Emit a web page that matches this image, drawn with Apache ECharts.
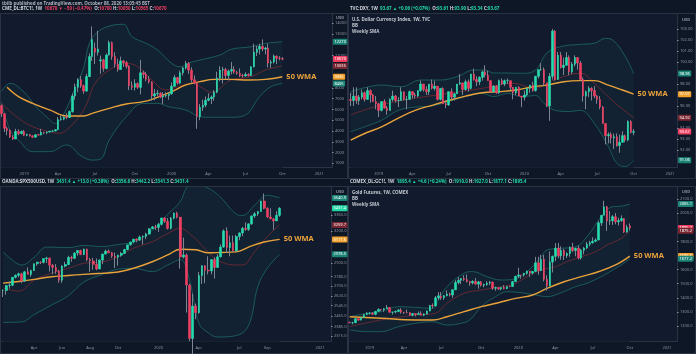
<!DOCTYPE html>
<html><head><meta charset="utf-8">
<script src="https://cdn.jsdelivr.net/npm/echarts@6/dist/echarts.min.js"></script>
<style>html,body{margin:0;padding:0;background:#0e1726;}#c{width:696px;height:354px;}</style>
</head><body><div id="c"></div>
<script>
// ================= DATA =================
// Weekly candles [open, high, low, close]
const btcStart = '2018-11-12';
const btcOHLC = [
[6350,6450,5300,5600],[5600,5650,3900,4250],[4250,4400,3600,4050],[4050,4150,3350,3450],[3450,3600,3150,3250],
[3250,4200,3250,3950],[3950,4150,3600,3750],[3750,4050,3700,3950],[3950,4100,3550,3600],[3600,3750,3520,3680],
[3680,3700,3480,3550],[3550,3600,3350,3420],[3420,3700,3400,3650],[3650,3720,3580,3620],[3620,4200,3600,3880],
[3880,3920,3700,3850],[3850,3950,3700,3900],[3900,4000,3850,3980],[3980,4080,3900,4000],[4000,4150,3950,4120],
[4120,5300,4100,5050],[5050,5450,4950,5100],[5100,5350,5000,5300],[5300,5650,5100,5250],[5250,5900,5200,5800],
[5800,7500,5700,7250],[7250,8400,6900,8050],[8050,8900,7600,8750],[8750,9100,8000,8200],[8200,8300,7450,7700],
[7700,9300,7650,9050],[9050,11200,9000,10900],[10900,13700,10500,12500],[11700,12200,10200,11300],[11300,13300,11000,11600],
[10500,11000,9300,10600],[10600,10700,9500,9800],[9800,11200,9700,11050],[11050,12400,11000,12200],[12200,12300,10600,10900],
[10900,11300,9900,10200],[10200,10700,9500,9700],[9700,10900,9700,10500],[10500,10600,9950,10350],[10350,10500,9800,10000],
[10000,10100,7800,8200],[8200,8600,7800,8050],[8050,8800,7750,8400],[8400,8500,7900,8050],[8050,10600,7400,9400],
[9400,9600,8900,9250],[9250,9500,8600,8800],[8800,9100,8400,8550],[8550,8600,6800,7250],[7250,7900,6850,7450],
[7450,7800,7200,7500],[7500,7600,7050,7150],[7150,7600,6500,7250],[7250,7600,7100,7300],[7300,7600,6900,7450],
[7450,8500,7350,8150],[8150,9200,8100,8950],[8950,9000,8300,8450],[8450,9600,8350,9400],[9400,9950,9150,9850],
[9850,10500,9700,10250],[10250,10400,9300,9650],[9650,9900,8500,8750],[8750,9150,8350,8450],[8450,8500,4200,5350],
[5350,6500,5000,6200],[6200,6900,5850,6400],[6400,7200,6200,6850],[6850,7500,6750,7000],[7000,7300,6500,7150],
[7150,7800,6800,7600],[7600,9500,7500,8900],[8900,10000,8600,9650],[9650,9950,8400,9700],[9700,9850,8800,9150],
[9150,9700,8700,9550],[9550,10400,9250,9700],[9700,10000,9300,9450],[9450,9600,9200,9350],[9350,9800,9000,9150],
[9150,9300,8950,9100],[9100,9450,9050,9250],[9250,9350,9050,9150],[9150,10000,9100,9950],[9950,12100,9900,11300],
[11300,11900,10950,11600],[11600,12100,11100,11850],[11850,12500,11400,11600],[11600,11800,11100,11700],[11700,12100,9900,10300],
[10300,10600,9850,10400],[10400,11100,10250,10950],[10950,11000,10200,10750],[10750,10950,10550,10720],[10700,10850,10565,10670]
];
// Indicators: [week number, value]
const btcUpper = [[0,7640],[3,8420],[8,7600],[12,6300],[16,5300],[19,4700],[22,5600],[26,8000],[29,9900],[31,12130],[34,13210],[39,13800],[43,13900],[46,12750],[51,12130],[55,11510],[60,10280],[63,9950],[66,10300],[70,10580],[77,11050],[81,11580],[88,11820],[93,12130],[99,12270]];
const btcLower = [[0,6710],[3,4090],[6,3160],[11,2080],[17,2080],[23,2700],[28,1700],[32,1300],[35,1400],[38,3160],[44,5320],[50,6560],[55,6560],[59,6250],[65,5940],[70,5320],[74,5270],[81,5270],[86,5480],[91,7180],[95,8110],[99,8405]];
const btcBasis = [[0,6570],[6,5180],[11,4400],[17,3940],[20,3790],[23,4090],[29,5950],[33,8420],[38,9650],[44,10270],[48,9970],[53,8730],[58,7800],[62,8100],[67,8420],[70,8110],[74,7600],[81,8730],[88,9040],[93,9650],[99,10035]];
const btcWma = [[2,8050],[6,7185],[11,6567],[17,5950],[23,5390],[29,5390],[32,5640],[38,6100],[44,6500],[50,6720],[54,7030],[60,7650],[65,8270],[70,8575],[75,8790],[81,8790],[87,8730],[93,8790],[99,9035]];
const btcTickDates = ['2019-01-07','2019-04-01','2019-07-01','2019-10-07','2020-01-06','2020-04-06','2020-07-06','2020-10-05','2021-01-04'];
const btcTickLabels = ['2019','Apr','Jul','Oct','2020','Apr','Jul','Oct','2021'];
const btcYLabels = [1000,2000,3000,4000,5000,6000,7000,8000,11000,13000,14000];
const btcTags = [12270,10670,10035,9035,8405];

const dxyStart = '2018-10-29';
const dxyOHLC = [
[96.6,97.2,96.0,96.5],[96.5,97.7,96.0,96.9],[96.9,97.7,96.2,96.5],[96.5,97.0,96.1,96.8],[96.8,97.5,96.6,97.2],
[97.2,97.3,96.4,96.6],[96.6,97.7,96.6,97.4],[97.4,97.5,96.3,97.0],[97.0,97.1,96.4,96.4],[96.4,96.9,95.7,96.2],
[96.2,96.3,95.0,95.6],[95.6,96.4,95.5,96.4],[96.4,96.6,95.8,95.8],[95.8,96.0,95.2,95.6],[95.6,96.7,95.6,96.6],
[96.6,97.4,96.4,96.9],[96.9,97.0,96.3,96.5],[96.5,96.8,95.9,96.5],[96.5,97.7,96.5,97.3],[97.3,97.3,96.5,96.6],
[96.6,96.9,95.7,96.6],[96.6,97.4,96.6,97.3],[97.3,97.3,96.7,97.0],[97.0,97.2,96.7,96.9],[96.9,97.4,96.8,97.4],
[97.4,98.3,97.3,98.0],[98.0,98.0,97.3,97.5],[97.5,97.8,97.0,97.3],[97.3,98.0,97.0,98.0],[98.0,98.4,97.5,97.6],
[97.6,98.3,97.4,97.8],[97.8,97.8,96.5,96.6],[96.6,97.6,96.5,97.6],[97.6,97.7,96.2,96.2],[96.2,96.5,95.8,96.1],
[96.1,97.3,96.0,97.3],[97.3,97.6,96.6,96.8],[96.8,97.2,96.5,97.1],[97.1,98.0,97.1,98.0],[98.0,98.9,97.9,98.1],
[98.1,98.1,97.0,97.5],[97.5,98.4,97.4,98.2],[98.2,98.4,97.3,97.6],[97.6,98.9,97.5,98.9],[98.9,99.4,98.3,98.4],
[98.4,98.7,97.8,98.2],[98.2,98.7,97.9,98.6],[98.6,99.2,98.3,99.1],[99.1,99.7,98.6,98.8],[98.8,99.2,98.3,98.3],
[98.3,98.3,97.2,97.3],[97.3,97.9,97.2,97.8],[97.8,97.9,97.1,97.2],[97.2,98.4,97.1,98.3],[98.3,98.5,97.9,98.0],
[98.0,98.4,97.8,98.3],[98.3,98.5,98.0,98.3],[98.3,98.3,97.4,97.7],[97.7,97.7,96.6,97.2],[97.2,97.7,97.0,97.7],
[97.7,97.8,96.9,96.9],[96.9,96.9,95.9,96.8],[96.8,97.4,96.5,97.0],[97.0,97.6,96.9,97.6],[97.6,97.9,97.2,97.9],
[97.9,98.2,97.3,97.4],[97.4,98.7,97.3,98.7],[98.7,99.3,98.5,99.3],[99.3,99.9,99.2,99.3],[99.3,99.5,97.8,98.1],
[98.1,98.1,95.9,96.0],[96.0,99.0,94.65,98.7],[98.7,103.0,98.4,102.8],[102.8,102.9,98.3,98.4],[98.4,100.9,98.4,100.6],
[100.6,100.9,99.4,99.5],[99.5,100.4,98.8,99.7],[99.7,100.9,99.7,100.4],[100.4,100.6,98.8,99.1],[99.1,100.0,98.9,99.8],
[99.8,100.6,99.6,100.4],[100.4,100.4,99.3,99.9],[99.9,100.1,98.3,98.4],[98.4,98.6,96.4,96.9],[96.9,97.4,95.7,97.3],
[97.3,97.8,96.8,97.6],[97.6,97.7,96.5,97.4],[97.4,97.8,96.7,96.9],[96.9,97.0,96.2,96.6],[96.6,96.9,95.7,95.9],
[95.9,96.0,94.4,94.4],[94.4,94.4,92.5,93.3],[93.3,93.6,92.6,93.4],[93.4,93.6,92.6,93.1],[93.1,93.5,92.1,93.2],
[93.2,93.5,92.3,92.4],[92.4,93.4,91.75,92.7],[92.7,93.7,92.7,93.3],[93.3,93.4,92.7,92.9],[92.9,94.7,92.8,94.6],
[94.6,94.7,93.5,93.6],[93.61,93.90,93.34,93.67]
];
const dxyUpper = [[0,97.3],[4,97.6],[11,97.9],[18,97.75],[25,98.36],[32,98.36],[38,98.67],[44,99.27],[48,99.27],[51,99.0],[55,99.0],[61,98.97],[66,99.27],[70,100.8],[75,101.4],[82,101.6],[87,101.7],[91,102.15],[94,101.9],[98,100.5],[101,98.96]];
const dxyLower = [[0,93.67],[5,94.1],[11,94.7],[17,95.6],[23,95.9],[29,96.0],[35,96.4],[41,96.85],[47,97.15],[51,96.85],[56,97.15],[61,96.85],[66,96.95],[69,96.25],[73,95.6],[78,95.5],[82,95.6],[87,94.4],[92,92.3],[95,90.8],[98,90.5],[101,91.06]];
const dxyBasis = [[0,95.2],[11,96.1],[23,96.7],[35,97.15],[47,97.6],[58,98.06],[66,97.6],[70,98.06],[76,98.67],[82,98.97],[88,97.8],[94,96.36],[101,94.92]];
const dxyWma = [[0,92.9],[5,93.5],[11,94.1],[17,94.9],[23,95.6],[29,96.06],[35,96.5],[41,96.9],[47,97.2],[53,97.3],[59,97.45],[65,97.75],[70,97.9],[76,98.2],[82,98.3],[87,98.3],[92,97.9],[97,97.45],[101,97.07]];
const dxyTickDates = ['2019-01-07','2019-04-01','2019-07-01','2019-10-07','2020-01-06','2020-04-06','2020-07-06','2020-10-05','2021-01-04'];
const dxyTickLabels = ['2019','Apr','Jul','Oct','2020','Apr','Jul','Oct','2021'];
const dxyYLabels = [92,93,94,96,98,100,101,102,103];
const dxyTags = [98.96,97.07,94.92,93.67,91.06];

const spxStart = '2019-01-21';
const spxOHLC = [
[2665,2675,2612,2665],[2665,2710,2630,2705],[2705,2740,2680,2708],[2708,2777,2700,2775],[2775,2800,2765,2792],
[2792,2815,2775,2805],[2805,2815,2725,2745],[2745,2830,2735,2822],[2822,2860,2800,2800],[2800,2840,2780,2834],
[2834,2895,2830,2893],[2893,2910,2875,2907],[2907,2915,2890,2905],[2905,2940,2895,2939],[2939,2955,2900,2945],
[2945,2945,2825,2880],[2880,2890,2800,2860],[2860,2890,2805,2826],[2826,2840,2730,2750],[2750,2880,2728,2872],
[2872,2910,2860,2886],[2886,2965,2880,2950],[2950,2965,2910,2942],[2942,2997,2935,2990],[2990,3015,2965,3013],
[3013,3020,2970,2976],[2976,3030,2970,3026],[3026,3030,2915,2932],[2932,2945,2822,2918],[2918,2945,2840,2888],
[2888,2940,2835,2847],[2847,2930,2845,2926],[2926,2985,2890,2980],[2980,3020,2980,3007],[3007,3022,2990,2992],
[2992,3000,2945,2961],[2961,2995,2855,2952],[2952,2975,2875,2970],[2970,3000,2955,2986],[2986,3028,2985,3022],
[3022,3066,3015,3066],[3066,3095,3060,3093],[3093,3122,3080,3120],[3120,3128,3090,3110],[3110,3155,3105,3141],
[3141,3156,3070,3146],[3146,3183,3120,3169],[3169,3226,3165,3221],[3221,3247,3220,3240],[3240,3260,3210,3235],
[3235,3280,3190,3265],[3265,3330,3255,3330],[3330,3338,3280,3295],[3295,3330,3214,3225],[3225,3340,3215,3328],
[3328,3385,3315,3380],[3380,3394,3325,3338],[3338,3340,2850,2954],[2954,3135,2940,2972],[2972,2985,2490,2710],
[2710,2720,2280,2300],[2300,2640,2175,2540],[2540,2560,2440,2490],[2490,2820,2480,2790],[2790,2880,2720,2875],
[2875,2880,2725,2835],[2835,2960,2800,2830],[2830,2935,2800,2930],[2930,2950,2765,2860],[2860,2980,2860,2955],
[2955,3070,2950,3045],[3045,3215,3040,3200],[3200,3235,2990,3040],[3040,3155,2960,3085],[3085,3155,3000,3010],
[3010,3160,3000,3145],[3145,3185,3110,3180],[3180,3240,3150,3225],[3225,3285,3200,3215],[3215,3275,3200,3270],
[3270,3355,3260,3350],[3350,3390,3330,3373],[3373,3400,3350,3396],[3396,3510,3395,3508],[3508,3590,3420,3430],
[3430,3440,3330,3340],[3340,3430,3325,3320],[3320,3330,3210,3300],[3300,3400,3300,3357],[3356.8,3442.2,3341.3,3431.4]
];
const spxUpper = [[0,3000],[3,2926],[6,2882],[10,2950],[14,3045],[21,3040],[26,3060],[32,3050],[37,3070],[42,3095],[48,3205],[53,3370],[57,3500],[59,3650],[61,3700],[64,3680],[69,3580],[75,3370],[77,3355],[81,3465],[85,3570],[89,3541]];
const spxLower = [[0,2416],[6,2420],[10,2475],[16,2553],[21,2622],[26,2735],[32,2800],[37,2845],[42,2853],[48,2824],[53,2882],[57,2930],[60,2750],[63,2410],[66,2340],[69,2310],[75,2320],[79,2395],[82,2700],[85,2853],[89,2978]];
const spxBasis = [[0,2685],[5,2660],[10,2750],[15,2805],[21,2853],[26,2897],[32,2910],[37,2956],[42,3034],[48,3095],[53,3175],[57,3225],[61,3148],[64,3060],[69,2926],[75,2882],[77,2882],[81,3005],[85,3143],[89,3260]];
const spxWma = [[0,2726],[5,2740],[10,2757],[15,2778],[21,2791],[26,2800],[32,2810],[37,2820],[42,2853],[48,2911],[53,2972],[57,3025],[62,3020],[66,2992],[70,2995],[75,3000],[79,3045],[84,3093],[89,3118]];
const spxTickDates = ['2019-04-01','2019-06-03','2019-08-05','2019-10-07','2020-01-06','2020-04-06','2020-07-06','2020-09-07','2021-01-04'];
const spxTickLabels = ['Apr','Jun','Aug','Oct','2020','Apr','Jul','Sep','2021'];
const spxYLabels = [2315,2385,2465,2545,2620,2700,2780,2900,3200,3360];
const spxTags = [3540.9,3431.4,3259.7,3117.6,2978.5];

const goldStart = '2018-11-19';
const goldOHLC = [
[1225,1231,1220,1223],[1223,1230,1212,1223],[1223,1252,1222,1252],[1252,1253,1238,1242],[1242,1262,1240,1260],
[1260,1285,1258,1281],[1281,1299,1278,1290],[1290,1297,1280,1291],[1291,1298,1280,1283],[1283,1305,1276,1304],
[1304,1326,1300,1318],[1318,1320,1306,1316],[1316,1326,1301,1323],[1323,1349,1321,1331],[1331,1334,1293,1298],
[1298,1300,1281,1299],[1299,1311,1290,1303],[1303,1320,1298,1314],[1314,1326,1288,1298],[1298,1300,1285,1296],
[1296,1316,1290,1295],[1295,1297,1272,1277],[1277,1290,1268,1288],[1288,1290,1268,1281],[1281,1303,1280,1288],
[1288,1304,1275,1277],[1277,1290,1270,1285],[1285,1310,1280,1306],[1306,1348,1305,1346],[1346,1360,1325,1342],
[1342,1412,1340,1400],[1400,1440,1384,1414],[1410,1440,1385,1400],[1400,1420,1385,1415],[1415,1453,1410,1427],
[1427,1436,1410,1420],[1420,1460,1400,1457],[1457,1525,1455,1509],[1509,1546,1495,1524],[1524,1540,1497,1537],
[1537,1560,1520,1529],[1529,1566,1508,1516],[1516,1520,1485,1505],[1505,1525,1495,1516],[1516,1540,1495,1497],
[1497,1519,1465,1513],[1513,1518,1480,1489],[1489,1500,1475,1494],[1494,1518,1485,1505],[1505,1520,1490,1511],
[1511,1515,1456,1468],[1468,1480,1450,1472],[1472,1476,1455,1463],[1463,1473,1453,1473],[1473,1490,1460,1465],
[1465,1480,1460,1481],[1481,1485,1475,1480],[1480,1520,1478,1515],[1515,1555,1513,1553],[1553,1613,1540,1562],
[1562,1562,1535,1561],[1561,1577,1550,1573],[1573,1592,1565,1590],[1590,1590,1548,1575],[1575,1588,1565,1587],
[1587,1690,1585,1648],[1648,1691,1564,1593],[1593,1705,1590,1673],[1673,1704,1517,1531],[1531,1560,1451,1484],
[1484,1729,1482,1654],[1654,1700,1580,1694],[1694,1788,1660,1752],[1752,1789,1680,1698],[1698,1765,1670,1736],
[1736,1747,1668,1700],[1700,1722,1683,1714],[1714,1765,1691,1756],[1756,1790,1725,1736],[1736,1755,1695,1752],
[1752,1770,1673,1683],[1683,1747,1670,1737],[1737,1760,1708,1753],[1753,1796,1745,1780],[1780,1804,1765,1790],
[1790,1829,1784,1801],[1801,1822,1795,1810],[1810,1944,1808,1931],[1931,1985,1910,1985],[1985,2089,1985,2045],
[2045,2052,1874,1945],[1945,2015,1917,1947],[1947,1987,1917,1975],[1975,2001,1921,1939],[1939,1968,1913,1948],
[1948,1985,1938,1962],[1962,1963,1860,1866],[1866,1918,1862,1900],[1910.0,1927.0,1877.1,1895.4]
];
const goldUpper = [[0,1266],[6,1290],[11,1302],[17,1337],[23,1332],[29,1325],[31,1384],[34,1479],[40,1574],[43,1586],[48,1550],[53,1526],[58,1535],[62,1586],[65,1645],[67,1691],[69,1739],[74,1751],[79,1762],[83,1833],[88,1975],[92,2046],[95,2050],[98,2065]];
const goldLower = [[0,1172],[6,1160],[11,1160],[17,1195],[23,1219],[29,1230],[34,1207],[38,1215],[42,1243],[46,1337],[51,1408],[55,1443],[60,1436],[65,1420],[69,1408],[74,1436],[79,1479],[83,1503],[88,1550],[92,1597],[95,1633],[98,1677]];
const goldBasis = [[0,1195],[11,1243],[23,1278],[30,1290],[34,1361],[40,1432],[46,1455],[53,1479],[58,1503],[62,1550],[67,1597],[72,1621],[76,1656],[81,1691],[86,1727],[90,1774],[95,1822],[98,1875]];
const goldWma = [[0,1266],[11,1255],[23,1243],[29,1243],[34,1266],[40,1302],[46,1337],[52,1365],[58,1396],[64,1420],[69,1467],[75,1514],[81,1550],[87,1585],[93,1633],[98,1696]];
const goldTickDates = ['2019-01-07','2019-04-01','2019-07-01','2019-10-07','2020-01-06','2020-04-06','2020-07-06','2020-10-05','2021-01-04'];
const goldTickLabels = ['2019','Apr','Jul','Oct','2020','Apr','Jul','Oct','2021'];
const goldYLabels = [1200,1300,1400,1500,1600,1800,2000,2100];
const goldTags = [2065.1,1895.4,1875.2,1695.6,1677.2];

// ================= STYLE =================
const FONT = '"Noto Sans", Roboto, sans-serif';
const C = {
  bg:'#0e1726', plot:'#111b2d', frame:'#2a3244', text:'#8c92a0', title:'#d1d4dc',
  up:'#26dcae', down:'#ef3f61', wick:'#7d8492',
  band:'#1d6b66', bandFill:'rgba(40,170,158,0.07)', basis:'#7a2a33', wma:'#e9a23b',
  teal:'#1a8577', red:'#ef3f61', dark:'#7a2631', orange:'#f0a12e', green:'#22d8a6'
};

function weekDates(start, n) {
  const t0 = Date.parse(start + 'T00:00:00Z');
  const out = [];
  for (let i = 0; i < n; i++) out.push(new Date(t0 + i * 604800000).toISOString().slice(0, 10));
  return out;
}

const panels = [
  {start:btcStart, weeks:117, ohlc:btcOHLC, upper:btcUpper, lower:btcLower, basis:btcBasis, wma:btcWma,
   tickDates:btcTickDates, tickLabels:btcTickLabels, yLabels:btcYLabels, tags:btcTags,
   tagColors:[C.teal,C.red,C.dark,C.orange,C.teal], dec:0, log:false, yMin:592, yMax:14855,
   left:0, top:14, width:332, height:153.7, bodyW:2},
  {start:dxyStart, weeks:117, ohlc:dxyOHLC, upper:dxyUpper, lower:dxyLower, basis:dxyBasis, wma:dxyWma,
   tickDates:dxyTickDates, tickLabels:dxyTickLabels, yLabels:dxyYLabels, tags:dxyTags,
   tagColors:[C.teal,C.orange,C.dark,C.red,C.teal], dec:2, log:false, yMin:90.39, yMax:104.36,
   left:349.3, top:14, width:327.7, height:153.7, bodyW:2},
  {start:spxStart, weeks:106, ohlc:spxOHLC, upper:spxUpper, lower:spxLower, basis:spxBasis, wma:spxWma,
   tickDates:spxTickDates, tickLabels:spxTickLabels, yLabels:spxYLabels, tags:spxTags,
   tagColors:[C.teal,C.green,C.dark,C.orange,C.teal], dec:1, log:true, yMin:2277, yMax:3662,
   left:1.5, top:187, width:329.5, height:154.7, bodyW:2.2},
  {start:goldStart, weeks:115, ohlc:goldOHLC, upper:goldUpper, lower:goldLower, basis:goldBasis, wma:goldWma,
   tickDates:goldTickDates, tickLabels:goldTickLabels, yLabels:goldYLabels, tags:goldTags,
   tagColors:[C.teal,C.red,C.dark,C.orange,C.teal], dec:1, log:false, yMin:1088.7, yMax:2185.8,
   left:348.3, top:187, width:328.7, height:154.7, bodyW:2}
];

const option = {
  animation:false, backgroundColor:C.bg, textStyle:{fontFamily:FONT},
  grid:[], xAxis:[], yAxis:[], series:[], title:[], graphic:[]
};

panels.forEach((p, i) => {
  const dates = weekDates(p.start, p.weeks);
  const tickSet = new Set(p.tickDates);
  const tickMap = {};
  p.tickDates.forEach((d, k) => { tickMap[d] = p.tickLabels[k]; });
  option.grid.push({left:p.left, top:p.top, width:p.width, height:p.height, show:true, backgroundColor:C.plot, borderWidth:0});
  option.xAxis.push({gridIndex:i, type:'category', data:dates, boundaryGap:true,
    axisLine:{show:true, lineStyle:{color:C.frame}}, axisTick:{show:false},
    axisLabel:{interval:(idx, v) => tickSet.has(v), formatter:v => tickMap[v] || '', fontSize:4, color:C.text, margin:4},
    splitLine:{show:false}});
  option.yAxis.push({gridIndex:i, type:p.log ? 'log' : 'value', logBase:10, position:'right', min:p.yMin, max:p.yMax,
    axisLine:{show:true, lineStyle:{color:C.frame}},
    axisTick:{show:true, length:1.5, lineStyle:{color:C.text}, customValues:p.yLabels},
    axisLabel:{customValues:p.yLabels, formatter:v => Number(v).toFixed(p.dec), fontSize:4, color:C.text, margin:3},
    splitLine:{show:false}});
  const cm = {xAxisIndex:i, yAxisIndex:i, silent:true};
  option.series.push(
    Object.assign({}, cm, {type:'line', data:p.upper, smooth:0.4, showSymbol:false, lineStyle:{color:C.band, width:0.8}, areaStyle:{color:C.bandFill, origin:'start'}, z:1}),
    Object.assign({}, cm, {type:'line', data:p.lower, smooth:0.4, showSymbol:false, lineStyle:{color:C.band, width:0.8}, areaStyle:{color:C.plot, opacity:1, origin:'start'}, z:1}),
    Object.assign({}, cm, {type:'line', data:p.basis, smooth:0.4, showSymbol:false, lineStyle:{color:C.basis, width:0.8}, z:2}),
    Object.assign({}, cm, {type:'line', data:p.wma, smooth:0.4, showSymbol:false, lineStyle:{color:C.wma, width:1.4}, z:2,
      endLabel:{show:true, formatter:'50 WMA', color:C.wma, fontSize:7.5, fontWeight:'bold', distance:4, fontFamily:FONT}}),
    Object.assign({}, cm, {type:'candlestick', data:p.ohlc.map(r => [r[2], r[2], r[2], r[1]]), barWidth:1,
      itemStyle:{color:C.wick, color0:C.wick, borderColor:C.wick, borderColor0:C.wick, borderWidth:1}, z:3}),
    Object.assign({}, cm, {type:'candlestick', data:p.ohlc.map(r => [r[0], r[3], Math.min(r[0], r[3]), Math.max(r[0], r[3])]), barWidth:p.bodyW,
      itemStyle:{color:C.up, color0:C.down, borderColor:C.up, borderColor0:C.down, borderWidth:0.6}, z:4,
      markLine:{silent:true, symbol:['none','none'], animation:false, z:10,
        lineStyle:{color:'rgba(0,0,0,0)', width:0.1, type:'solid'},
        label:{show:true, position:'end', distance:1, fontSize:4, color:'#ffffff', padding:[1,1.5], borderRadius:1, opacity:1,
          formatter:pr => Number(pr.value).toFixed(p.dec)},
        data:p.tags.map((v, k) => ({yAxis:v, label:{backgroundColor:p.tagColors[k]}}))}})
  );
});

// frames
[[0.5,13.5,347,165],[348.5,13.5,347,165],[0.5,186.5,347,167],[348.5,186.5,347,167]].forEach(r => {
  option.graphic.push({type:'rect', silent:true, z:0, shape:{x:r[0], y:r[1], width:r[2], height:r[3]}, style:{fill:'none', stroke:C.frame, lineWidth:1}});
});

// texts
const rich = {
  h:{color:'#aeb3bd', fontSize:4.5, fontFamily:FONT},
  s:{color:C.title, fontSize:4.5, fontWeight:'bold', fontFamily:FONT},
  r:{color:C.red, fontSize:4.5, fontFamily:FONT},
  g:{color:C.green, fontSize:4.5, fontFamily:FONT},
  l:{color:'#c3c7cf', fontSize:4.5, lineHeight:5.7, fontFamily:FONT},
  u:{color:C.text, fontSize:4, fontFamily:FONT}
};
function T(left, top, text) { option.title.push({left:left, top:top, padding:0, text:text, textStyle:{rich:rich, fontSize:4.5}}); }
T(2, 1, '{h|tbilb published on TradingView.com, October 08, 2020 13:05:45 BST}');
T(2, 6.6, '{s|CME_DL:BTC1!, 1W}  {r|10670 ▼ −50 (−0.47%)}  {s|O:}{r|10700} {s|H:}{r|10850} {s|L:}{r|10565} {s|C:}{r|10670}');
T(350, 6.6, '{s|TVC:DXY, 1W}  {g|93.67 ▲ +0.06 (+0.07%)}  {s|O:}{g|93.61} {s|H:}{g|93.90} {s|L:}{g|93.34} {s|C:}{g|93.67}');
T(2, 179.6, '{s|OANDA:SPX500USD, 1W}  {g|3431.4 ▲ +13.0 (+0.38%)}  {s|O:}{g|3356.8} {s|H:}{g|3442.2} {s|L:}{g|3341.3} {s|C:}{g|3431.4}');
T(350, 179.6, '{s|COMEX_DL:GC1!, 1W}  {g|1895.4 ▲ +4.6 (+0.24%)}  {s|O:}{g|1910.0} {s|H:}{g|1927.0} {s|L:}{g|1877.1} {s|C:}{g|1895.4}');
T(352, 17.2, '{l|U.S. Dollar Currency Index, 1W, TVC}\n{l|BB}\n{l|Weekly SMA}');
T(352, 190, '{l|Gold Futures, 1W, COMEX}\n{l|BB}\n{l|Weekly SMA}');
T(336, 16, '{u|USD}');
T(682, 18, '{u|USD}');
T(336, 189.5, '{u|USD}');
T(682, 189.5, '{u|USD}');

const chart = echarts.init(document.getElementById('c'), null, {renderer:'canvas'});
chart.setOption(option);
</script></body></html>
